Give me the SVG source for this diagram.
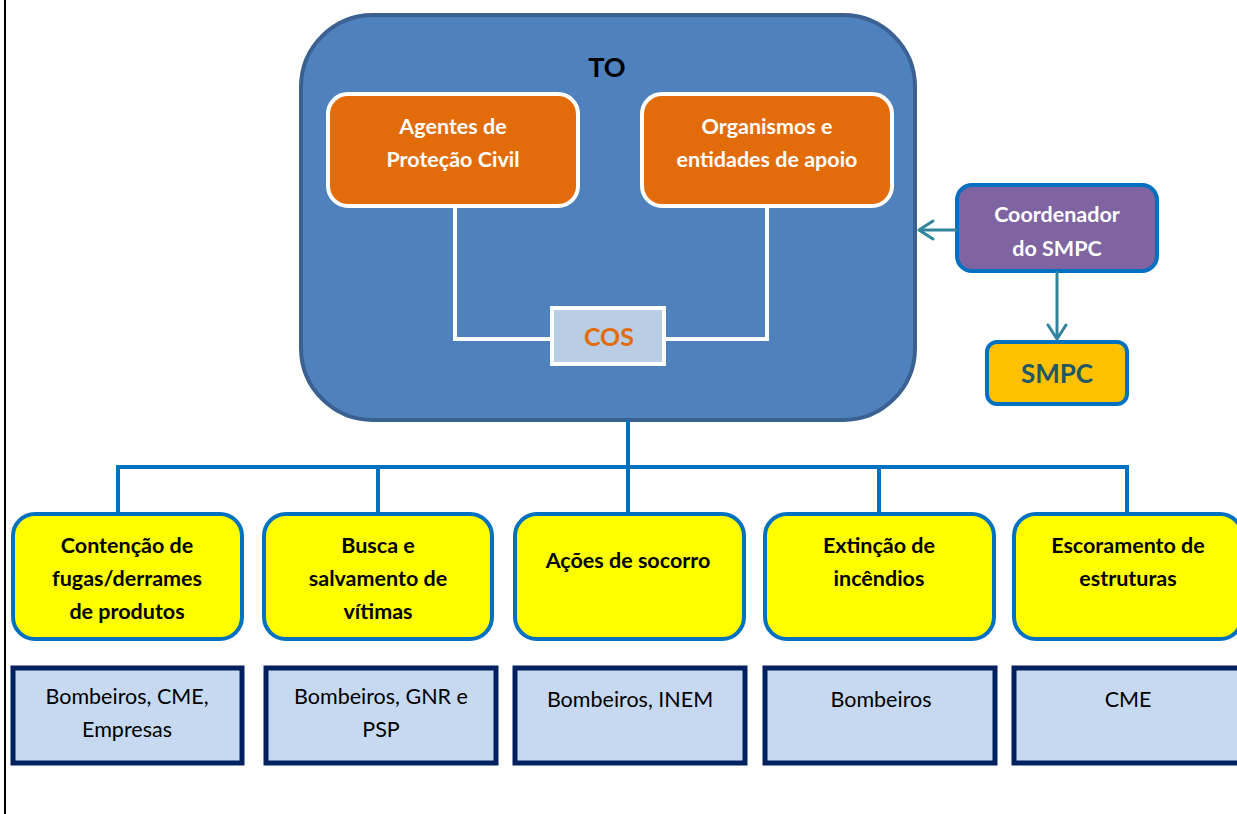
<svg xmlns="http://www.w3.org/2000/svg" width="1237" height="814" viewBox="0 0 1237 814">
  <style>
    text { font-family: Lato, "Open Sans", "Liberation Sans", sans-serif; text-anchor: middle; }
    .b { font-weight: bold; }
    .wt { fill: #ffffff; font-size: 21.5px; font-weight: bold; }
    .yt { fill: #000000; font-size: 21.5px; font-weight: bold; }
    .lt { fill: #000000; font-size: 21.5px; }
    .orange { fill: #E36C0A; stroke: #ffffff; stroke-width: 4; }
    .yellow { fill: #FFFF00; stroke: #0070C0; stroke-width: 4; }
    .light { fill: #C6D9F1; stroke: #002060; stroke-width: 5; }
    .tree { fill: none; stroke: #0070C0; stroke-width: 4; }
    .inner { fill: none; stroke: #ffffff; stroke-width: 4; }
    .teal { fill: none; stroke: #31849B; stroke-width: 3; marker-end: url(#chev); }
  </style>
  <defs>
    <marker id="chev" markerUnits="userSpaceOnUse" markerWidth="22" markerHeight="22" viewBox="0 0 22 22" refX="19" refY="11" orient="auto">
      <path d="M5,2 L19,11 L5,20" fill="none" stroke="#31849B" stroke-width="3" stroke-linecap="round" stroke-linejoin="round"/>
    </marker>
  </defs>

  <rect width="1237" height="814" fill="#ffffff"/>
  <!-- page margin rule -->
  <line x1="5" y1="0" x2="5" y2="814" stroke="#000000" stroke-width="2"/>

  <!-- Teatro de Operações -->
  <g id="to">
    <rect x="301" y="15" width="614" height="405" rx="72" ry="72" fill="#4F81BD" stroke="#3A6191" stroke-width="4"/>
    <text x="607" y="77" class="b" style="font-size:27px;fill:#000000">TO</text>
  </g>

  <!-- links inside TO -->
  <g id="inner-links">
    <polyline class="inner" points="455,206 455,339 552,339"/>
    <polyline class="inner" points="767,206 767,339 664,339"/>
  </g>

  <g id="agentes">
    <rect x="328" y="94" width="250" height="112" rx="20" ry="20" class="orange"/>
    <text x="453" y="134" class="wt">Agentes de</text>
    <text x="453" y="167" class="wt">Proteção Civil</text>
  </g>

  <g id="organismos">
    <rect x="642" y="94" width="250" height="112" rx="20" ry="20" class="orange"/>
    <text x="767" y="134" class="wt">Organismos e</text>
    <text x="767" y="167" class="wt">entidades de apoio</text>
  </g>

  <g id="cos">
    <rect x="552" y="308" width="112" height="56" fill="#B9CDE5" stroke="#ffffff" stroke-width="4"/>
    <text x="609" y="346" class="b" style="font-size:25px;fill:#E36C0A">COS</text>
  </g>

  <g id="coordenador">
    <rect x="957" y="185" width="200" height="86" rx="15" ry="15" fill="#8064A2" stroke="#0070C0" stroke-width="4"/>
    <text x="1057" y="222" class="wt">Coordenador</text>
    <text x="1057" y="256" class="wt">do SMPC</text>
  </g>

  <g id="smpc">
    <rect x="987" y="342" width="140" height="62" rx="10" ry="10" fill="#FFC000" stroke="#0070C0" stroke-width="4"/>
    <text x="1057" y="383" class="b" style="font-size:26px;fill:#215868">SMPC</text>
  </g>

  <!-- connectors -->
  <g id="connectors">
    <line class="teal" x1="957" y1="230" x2="919" y2="230"/>
    <line class="teal" x1="1057" y1="271" x2="1057" y2="339"/>
    <polyline class="tree" points="628,420 628,467"/>
    <polyline class="tree" points="118,513 118,467 1127,467 1127,513"/>
    <line class="tree" x1="378" y1="467" x2="378" y2="513"/>
    <line class="tree" x1="628" y1="467" x2="628" y2="513"/>
    <line class="tree" x1="879" y1="467" x2="879" y2="513"/>
  </g>

  <!-- tasks -->
  <g id="contencao">
    <rect x="13" y="514" width="229" height="125" rx="22" ry="22" class="yellow"/>
    <text x="127" y="553" class="yt">Contenção de</text>
    <text x="127" y="586" class="yt">fugas/derrames</text>
    <text x="127" y="619" class="yt">de produtos</text>
  </g>
  <g id="busca">
    <rect x="264" y="514" width="228" height="125" rx="22" ry="22" class="yellow"/>
    <text x="378" y="553" class="yt">Busca e</text>
    <text x="378" y="586" class="yt">salvamento de</text>
    <text x="378" y="619" class="yt">vítimas</text>
  </g>
  <g id="socorro">
    <rect x="515" y="514" width="229" height="125" rx="22" ry="22" class="yellow"/>
    <text x="628" y="568" class="yt">Ações de socorro</text>
  </g>
  <g id="extincao">
    <rect x="765" y="514" width="229" height="125" rx="22" ry="22" class="yellow"/>
    <text x="879" y="553" class="yt">Extinção de</text>
    <text x="879" y="586" class="yt">incêndios</text>
  </g>
  <g id="escoramento">
    <rect x="1014" y="514" width="228" height="125" rx="22" ry="22" class="yellow"/>
    <text x="1128" y="553" class="yt">Escoramento de</text>
    <text x="1128" y="586" class="yt">estruturas</text>
  </g>

  <!-- agents per task -->
  <g id="ag-contencao">
    <rect x="13" y="668" width="229" height="95" class="light"/>
    <text x="127" y="704" class="lt">Bombeiros, CME,</text>
    <text x="127" y="737" class="lt">Empresas</text>
  </g>
  <g id="ag-busca">
    <rect x="266" y="668" width="230" height="95" class="light"/>
    <text x="381" y="704" class="lt">Bombeiros, GNR e</text>
    <text x="381" y="737" class="lt">PSP</text>
  </g>
  <g id="ag-socorro">
    <rect x="515" y="668" width="230" height="95" class="light"/>
    <text x="630" y="707" class="lt">Bombeiros, INEM</text>
  </g>
  <g id="ag-extincao">
    <rect x="765" y="668" width="230" height="95" class="light"/>
    <text x="881" y="707" class="lt">Bombeiros</text>
  </g>
  <g id="ag-escoramento">
    <rect x="1014" y="668" width="232" height="95" class="light"/>
    <text x="1128" y="707" class="lt">CME</text>
  </g>
</svg>
